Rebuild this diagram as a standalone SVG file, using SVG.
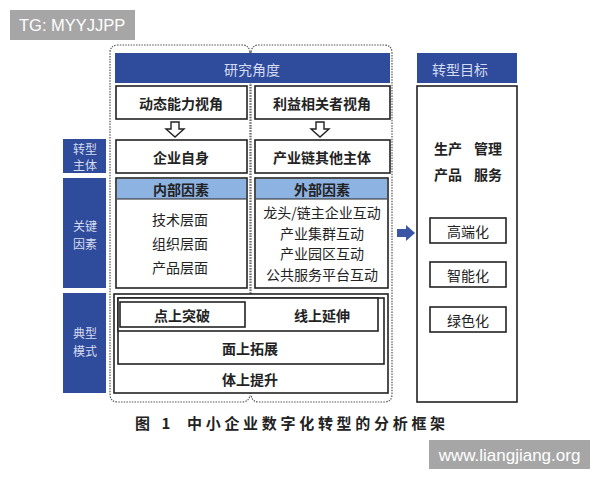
<svg xmlns="http://www.w3.org/2000/svg" width="600" height="480" viewBox="0 0 600 480">
<defs>
<style>
.bx{fill:#fff;stroke:#222;stroke-width:1.6}
.blue{fill:#2f4b9c}
.hd{fill:#8db3e2;stroke:none}
.t{font-family:"Noto Sans CJK SC",sans-serif;font-size:14px;fill:#222;text-anchor:middle;dominant-baseline:central}
.b{font-weight:bold}
.w{font-family:"Noto Sans CJK SC",sans-serif;font-size:14px;fill:#d6dcef;text-anchor:middle;dominant-baseline:central}
.s{font-size:12px}
.dot{fill:none;stroke:#555;stroke-width:1.2;stroke-dasharray:1.5 1.2}
.wm{fill:#a6a6a6}
.wmt{font-family:"Liberation Sans",Arial,sans-serif;fill:#fff;dominant-baseline:central}
.cap{font-family:"Noto Sans CJK SC",sans-serif;font-size:15px;font-weight:bold;fill:#222;dominant-baseline:central}
</style>
</defs>
<rect width="600" height="480" fill="#fff"/>
<g id="wm1"><rect class="wm" x="10" y="10" width="125" height="30"/><text class="wmt" x="19" y="25" font-size="16.5">TG: MYYJJPP</text></g>
<g id="wm2"><rect class="wm" x="429" y="440" width="161" height="29"/><text class="wmt" x="509.5" y="455" font-size="17" text-anchor="middle">www.liangjiang.org</text></g>

<g id="brackets">
<path class="dot" d="M250,52 Q249,45 242,45 L118,45 Q110,45 110,53 L110,394 Q110,402 118,402 L242,402 Q249,402 250,395"/>
<path class="dot" d="M251,52 Q252,45 259,45 L384,45 Q392,45 392,53 L392,394 Q392,402 384,402 L259,402 Q252,402 251,395"/>
<line class="dot" x1="250" y1="52" x2="250" y2="395"/>
<line class="dot" x1="251" y1="52" x2="251" y2="395"/>
</g>

<g id="header"><rect class="blue" x="115" y="53" width="275" height="30"/><text class="w" x="252" y="69">研究角度</text></g>
<g id="goal-header"><rect class="blue" x="417" y="53" width="100" height="30"/><text class="w" x="460" y="69">转型目标</text></g>

<g id="side1"><rect class="blue" x="63" y="139" width="43" height="34"/><text class="w s" x="85" y="148">转型</text><text class="w s" x="85" y="164">主体</text></g>
<g id="side2"><rect class="blue" x="63" y="178" width="43" height="110"/><text class="w s" x="85" y="225">关键</text><text class="w s" x="85" y="243">因素</text></g>
<g id="side3"><rect class="blue" x="63" y="293" width="43" height="100"/><text class="w s" x="85" y="332">典型</text><text class="w s" x="85" y="350">模式</text></g>

<g id="n-dyn"><rect class="bx" x="116" y="86" width="131" height="33"/><text class="t b" x="181" y="103">动态能力视角</text></g>
<g id="n-stake"><rect class="bx" x="255" y="86" width="135" height="33"/><text class="t b" x="322" y="103">利益相关者视角</text></g>
<g id="n-self"><rect class="bx" x="116" y="140" width="131" height="33"/><text class="t b" x="181" y="157">企业自身</text></g>
<g id="n-chain"><rect class="bx" x="255" y="140" width="135" height="33"/><text class="t b" x="322" y="157">产业链其他主体</text></g>

<g id="n-inner"><rect class="bx" x="116" y="178" width="131" height="110"/><rect class="hd" x="117" y="179" width="129" height="20"/><line x1="117" y1="199" x2="246" y2="199" stroke="#222" stroke-width="1"/><text class="t b" x="181" y="189">内部因素</text>
<text class="t" x="180" y="219">技术层面</text><text class="t" x="180" y="243">组织层面</text><text class="t" x="180" y="267">产品层面</text></g>
<g id="n-outer"><rect class="bx" x="255" y="178" width="133" height="110"/><rect class="hd" x="256" y="179" width="131" height="20"/><line x1="256" y1="199" x2="387" y2="199" stroke="#222" stroke-width="1"/><text class="t b" x="322" y="189">外部因素</text>
<text class="t" x="322" y="212">龙头/链主企业互动</text><text class="t" x="322" y="233">产业集群互动</text><text class="t" x="322" y="253">产业园区互动</text><text class="t" x="322" y="274">公共服务平台互动</text></g>

<g id="n-modes"><rect class="bx" x="114" y="294" width="274" height="99"/><text class="t b" x="250" y="379">体上提升</text></g>
<g id="n-face"><rect class="bx" x="118" y="298" width="266" height="66"/><text class="t b" x="250" y="348">面上拓展</text></g>
<g id="n-line"><rect class="bx" x="118" y="298" width="260" height="33"/><text class="t b" x="322" y="315">线上延伸</text></g>
<g id="n-point"><rect class="bx" x="120" y="302" width="125" height="25"/><text class="t b" x="182" y="315">点上突破</text></g>

<g id="n-goal"><rect class="bx" x="417" y="86" width="100" height="316"/><text class="t b" x="448" y="148">生产</text><text class="t b" x="488" y="148">管理</text><text class="t b" x="448" y="174">产品</text><text class="t b" x="488" y="174">服务</text></g>
<g id="n-high"><rect class="bx" x="430" y="218" width="76" height="25"/><text class="t" x="468" y="231">高端化</text></g>
<g id="n-smart"><rect class="bx" x="430" y="262" width="76" height="25"/><text class="t" x="468" y="275">智能化</text></g>
<g id="n-green"><rect class="bx" x="430" y="307" width="76" height="25"/><text class="t" x="468" y="320">绿色化</text></g>

<g id="connectors">
<path d="M171,122 L179,122 L179,129 L184,129 L175,137 L166,129 L171,129 Z" fill="#fff" stroke="#222" stroke-width="1.4"/>
<path d="M316,122 L324,122 L324,129 L329,129 L320,137 L311,129 L316,129 Z" fill="#fff" stroke="#222" stroke-width="1.4"/>
<path d="M397,229 L406,229 L406,225 L415,233 L406,241 L406,237 L397,237 Z" fill="#3a55a4"/>
</g>

<g id="caption"><text class="cap" x="135" y="422" letter-spacing="4">图 1</text><text class="cap" x="187" y="422" letter-spacing="3.7">中小企业数字化转型的分析框架</text></g>
</svg>
